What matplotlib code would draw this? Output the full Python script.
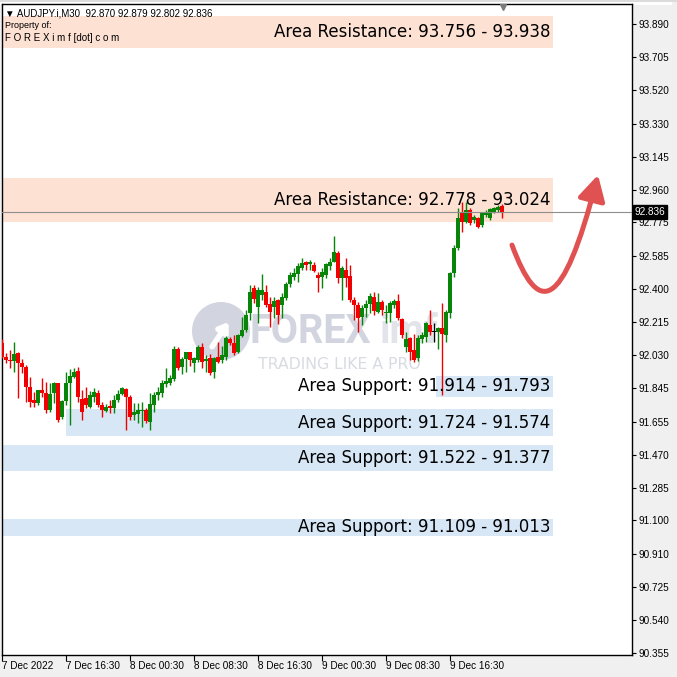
import matplotlib
matplotlib.use('Agg')
import matplotlib.pyplot as plt
import matplotlib.transforms as mtransforms
from matplotlib.patches import Rectangle, Ellipse, FancyArrowPatch, ArrowStyle
from matplotlib.path import Path

# ---------------- data (AUDJPY M30) ----------------
opens = [92.096, 92.021, 92.002, 91.998, 92.039, 91.983, 91.964, 91.852, 91.777, 91.762,
         91.833, 91.815, 91.721, 91.815, 91.871, 91.680, 91.773, 91.871, 91.908, 91.942,
         91.781, 91.787, 91.740, 91.796, 91.815, 91.749, 91.717, 91.743, 91.730, 91.777,
         91.811, 91.837, 91.796, 91.693, 91.698, 91.717, 91.721, 91.655, 91.749, 91.805,
         91.815, 91.867, 91.874, 91.893, 92.062, 91.961, 92.006, 92.045, 91.983, 92.002,
         92.077, 91.998, 92.011, 91.933, 92.017, 92.002, 92.021, 92.120, 92.099, 92.049,
         92.137, 92.171, 92.264, 92.405, 92.302, 92.367, 92.386, 92.315, 92.302, 92.339,
         92.311, 92.352, 92.427, 92.470, 92.484, 92.517, 92.551, 92.540, 92.536, 92.480,
         92.470, 92.480, 92.532, 92.555, 92.602, 92.461, 92.508, 92.476, 92.339, 92.311,
         92.246, 92.292, 92.315, 92.358, 92.274, 92.326, 92.264, 92.264, 92.311, 92.334,
         92.232, 92.077, 92.124, 92.058, 92.011, 92.120, 92.133, 92.199, 92.163, 92.161,
         92.180, 92.142, 92.264, 92.489, 92.630, 92.836, 92.780, 92.845, 92.789, 92.802,
         92.761, 92.817, 92.798, 92.836, 92.845, 92.870]
highs = [92.118, 92.039, 92.058, 92.105, 92.049, 92.006, 91.974, 91.908, 91.824, 91.835,
         91.903, 91.880, 91.871, 91.880, 91.874, 91.777, 91.936, 91.950, 91.955, 91.964,
         91.835, 91.852, 91.828, 91.843, 91.835, 91.768, 91.755, 91.777, 91.805, 91.835,
         91.848, 91.843, 91.805, 91.758, 91.758, 91.768, 91.730, 91.815, 91.824, 91.852,
         91.890, 91.955, 91.918, 92.081, 92.077, 92.021, 92.049, 92.049, 92.021, 92.086,
         92.096, 92.030, 92.036, 92.021, 92.105, 92.081, 92.137, 92.133, 92.142, 92.148,
         92.242, 92.283, 92.424, 92.424, 92.414, 92.484, 92.424, 92.358, 92.358, 92.345,
         92.377, 92.442, 92.498, 92.517, 92.545, 92.573, 92.558, 92.564, 92.551, 92.498,
         92.521, 92.545, 92.573, 92.701, 92.615, 92.532, 92.573, 92.536, 92.358, 92.330,
         92.311, 92.339, 92.377, 92.386, 92.377, 92.339, 92.311, 92.334, 92.345, 92.371,
         92.236, 92.161, 92.133, 92.146, 92.142, 92.161, 92.217, 92.283, 92.208, 92.189,
         92.320, 92.283, 92.498, 92.648, 92.854, 92.892, 92.892, 92.854, 92.817, 92.808,
         92.836, 92.845, 92.854, 92.864, 92.873, 92.879]
lows = [92.011, 91.983, 91.955, 91.936, 91.787, 91.927, 91.768, 91.740, 91.740, 91.749,
        91.796, 91.702, 91.712, 91.758, 91.655, 91.668, 91.749, 91.637, 91.899, 91.768,
        91.665, 91.730, 91.730, 91.768, 91.740, 91.680, 91.712, 91.702, 91.702, 91.768,
        91.805, 91.609, 91.665, 91.665, 91.646, 91.627, 91.646, 91.608, 91.712, 91.777,
        91.796, 91.852, 91.861, 91.886, 91.946, 91.923, 91.936, 91.968, 91.936, 91.993,
        91.955, 91.936, 91.918, 91.899, 91.983, 91.983, 92.002, 92.086, 92.030, 92.039,
        92.129, 92.161, 92.227, 92.320, 92.208, 92.339, 92.302, 92.189, 92.236, 92.202,
        92.236, 92.339, 92.414, 92.452, 92.442, 92.508, 92.508, 92.508, 92.495, 92.386,
        92.405, 92.461, 92.508, 92.551, 92.433, 92.339, 92.414, 92.330, 92.227, 92.161,
        92.199, 92.246, 92.264, 92.255, 92.264, 92.255, 92.208, 92.217, 92.292, 92.227,
        92.124, 92.049, 92.002, 91.993, 91.998, 92.096, 92.105, 92.142, 92.105, 92.064,
        91.805, 92.105, 92.236, 92.470, 92.620, 92.723, 92.770, 92.761, 92.770, 92.742,
        92.751, 92.808, 92.789, 92.826, 92.836, 92.802]
closes = [92.021, 92.002, 91.998, 92.036, 91.983, 91.961, 91.852, 91.768, 91.762, 91.833,
          91.815, 91.721, 91.811, 91.871, 91.665, 91.773, 91.871, 91.912, 91.936, 91.796,
          91.712, 91.749, 91.805, 91.824, 91.749, 91.721, 91.740, 91.730, 91.777, 91.809,
          91.843, 91.796, 91.683, 91.711, 91.721, 91.719, 91.661, 91.755, 91.805, 91.824,
          91.871, 91.886, 91.899, 92.062, 91.955, 92.006, 92.045, 92.002, 92.011, 92.073,
          91.993, 92.006, 91.927, 92.011, 91.993, 92.030, 92.124, 92.096, 92.043, 92.142,
          92.171, 92.255, 92.386, 92.343, 92.395, 92.395, 92.311, 92.270, 92.334, 92.255,
          92.358, 92.427, 92.480, 92.489, 92.530, 92.545, 92.536, 92.551, 92.502, 92.461,
          92.498, 92.540, 92.555, 92.607, 92.461, 92.517, 92.461, 92.339, 92.311, 92.236,
          92.292, 92.315, 92.364, 92.277, 92.330, 92.283, 92.274, 92.320, 92.334, 92.236,
          92.142, 92.120, 92.049, 92.002, 92.127, 92.142, 92.208, 92.157, 92.163, 92.184,
          92.146, 92.274, 92.489, 92.630, 92.798, 92.780, 92.845, 92.770, 92.808, 92.751,
          92.826, 92.836, 92.851, 92.858, 92.864, 92.836]

last_price = 92.836
header = "\u25BC AUDJPY.i,M30  92.870 92.879 92.802 92.836"

y_ticks = [93.890, 93.705, 93.520, 93.330, 93.145, 92.960, 92.775, 92.585, 92.400, 92.215,
           92.030, 91.845, 91.655, 91.470, 91.285, 91.100, 90.910, 90.725, 90.540, 90.355]
x_tick_bars = [0, 16, 32, 48, 64, 80, 96, 112]
x_tick_labels = ["7 Dec 2022", "7 Dec 16:30", "8 Dec 00:30", "8 Dec 08:30",
                 "8 Dec 16:30", "9 Dec 00:30", "9 Dec 08:30", "9 Dec 16:30"]

zone_kind = ["Resistance", "Resistance", "Support", "Support", "Support", "Support"]
zone_first = [93.756, 92.778, 91.914, 91.724, 91.522, 91.109]
zone_second = [93.938, 93.024, 91.793, 91.574, 91.377, 91.013]
zone_start_bar = [0, 0, 109.5, 17, 0, 0]
zone_end_bar = 137.75

# scenario arrow (bar index, price) cubic bezier
arrow_bars = [127.5, 134.0, 140.0, 149.0]
arrow_prices = [92.648, 92.255, 92.255, 93.042]

# ---------------- styling ----------------
GREEN = '#088408'
RED = '#f00000'
RES_COL = '#fde1d3'
SUP_COL = '#d7e7f6'

W = H = 677
fig = plt.figure(figsize=(6.77, 6.77), dpi=100)
fig.patch.set_facecolor('white')

def fx(px):
    return px / W

def fy(py):
    return 1 - py / H

ax = fig.add_axes([fx(2), fy(655), fx(632) - fx(2), fy(4) - fy(655)])
ax.set_xlim(0, 157.5)
ax.set_ylim(90.344, 94.003)
ax.set_facecolor('white')

# zones
for kind, a, b, s in zip(zone_kind, zone_first, zone_second, zone_start_bar):
    lo, hi = min(a, b), max(a, b)
    col = RES_COL if kind == "Resistance" else SUP_COL
    ax.add_patch(Rectangle((s - 1, lo), zone_end_bar - s + 1, hi - lo,
                           facecolor=col, edgecolor='none', zorder=1))
    ax.text(137.0, (lo + hi) / 2, f"Area {kind}: {a:.3f} - {b:.3f}",
            ha='right', va='center', fontsize=12.0, color='black',
            family='DejaVu Sans', zorder=6)

# watermark
wm_col = '#d2d5df'
ax.add_patch(Ellipse((0.3476, 0.4977), 58 / 630, 58 / 651, transform=ax.transAxes,
                     facecolor=wm_col, edgecolor='none', zorder=1.5))
ax.annotate('', xy=(0.362, 0.515), xytext=(0.331, 0.470), xycoords='axes fraction',
            arrowprops=dict(arrowstyle='-|>,head_length=0.5,head_width=0.35',
                            color='white', lw=4), zorder=1.6)
ax.text(0.393, 0.479, "FOREX", transform=ax.transAxes, fontsize=28.5,
        fontweight='bold', family='Roboto', color=wm_col, ha='left',
        va='baseline', zorder=1.5)
ax.text(0.600, 0.479, "imf", transform=ax.transAxes, fontsize=28.5,
        fontweight='bold', family='Roboto', color='#e2e4ea', ha='left',
        va='baseline', zorder=1.5)
ax.text(0.406, 0.440, "TRADING LIKE A PRO", transform=ax.transAxes,
        fontsize=11.3, family='DejaVu Sans', color='#d8dbe2', ha='left',
        va='baseline', zorder=1.5)

# candles
for i, (o, h, l, c) in enumerate(zip(opens, highs, lows, closes)):
    if c > o:
        col = GREEN
    elif c < o:
        col = RED
    else:
        col = 'black'
    ax.vlines(i, l, h, color=col, lw=1.0, zorder=3)
    body = max(abs(c - o), 0.005)
    ax.bar(i, body, bottom=min(o, c) - (0.0025 if c == o else 0), width=0.8,
           color=col, edgecolor='none', zorder=3.1)

# last price line
ax.axhline(last_price, color='#8e8e8e', lw=0.8, zorder=4)

# scenario arrow
verts = list(zip(arrow_bars, arrow_prices))
path = Path(verts, [Path.MOVETO, Path.CURVE4, Path.CURVE4, Path.CURVE4])
arr = FancyArrowPatch(path=path, arrowstyle=ArrowStyle('-|>', head_length=1.0, head_width=0.55),
                      mutation_scale=15, color='#e05252', lw=3.6, shrinkA=0, shrinkB=0,
                      zorder=7, capstyle='round', joinstyle='round')
ax.add_patch(arr)

# axes styling
for sp in ['left', 'top', 'right', 'bottom']:
    ax.spines[sp].set_color('black')
    ax.spines[sp].set_linewidth(1.0)

ax.yaxis.tick_right()
ax.set_yticks(y_ticks)
ax.set_yticklabels([f"{v:.3f}" for v in y_ticks])
ax.tick_params(axis='y', direction='out', length=3, width=0.8, pad=1.5,
               labelsize=7.2, colors='black')
ax.set_xticks(x_tick_bars)
ax.set_xticklabels(x_tick_labels, ha='left')
ax.tick_params(axis='x', direction='out', length=4, width=0.8, pad=0.5,
               labelsize=7.2, colors='black')
for lab in ax.get_xticklabels() + ax.get_yticklabels():
    lab.set_family('Liberation Sans')

# current price label
blend = mtransforms.blended_transform_factory(ax.transAxes, ax.transData)
ax.text(1.004, last_price, f"{last_price:.3f}", transform=blend, ha='left', va='center',
        fontsize=7.2, family='Liberation Sans', color='white', zorder=8, clip_on=False,
        bbox=dict(boxstyle='square,pad=0.2', facecolor='black', edgecolor='black'))

# chart shift marker at top
blend2 = mtransforms.blended_transform_factory(ax.transData, ax.transAxes)
ax.plot([125.3], [0.996], marker='v', markersize=5, color='#7a7a7a',
        transform=blend2, clip_on=False, zorder=9)

# header texts
fig.text(fx(5), fy(13), header, fontsize=7, family=['Liberation Sans', 'DejaVu Sans'],
         ha='left', va='center', color='black')
fig.text(fx(5), fy(26), "Property of:", fontsize=6.5, family='Liberation Sans',
         ha='left', va='center', color='black')
fig.text(fx(5), fy(38), "F O R E X i m f [dot] c o m", fontsize=7, family='Liberation Sans',
         ha='left', va='center', color='black')

# window frame
fig.patches.append(Rectangle((fx(672), 0), 1 - fx(672), 1, transform=fig.transFigure,
                             facecolor='#f0f0f0', edgecolor='none', zorder=-1))
fig.patches.append(Rectangle((0, 0), 1, 1 - fy(672), transform=fig.transFigure,
                             facecolor='#f0f0f0', edgecolor='none', zorder=-1))
fig.patches.append(Rectangle((0, fy(2)), 1, 1 - fy(2), transform=fig.transFigure,
                             facecolor='#dcdcdc', edgecolor='none', zorder=-1))

fig.savefig('out.png', dpi=100, facecolor='white')
